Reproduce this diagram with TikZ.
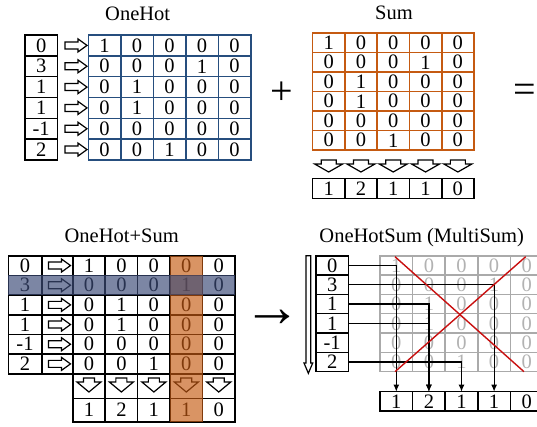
\documentclass[tikz,border=0pt]{standalone}
\usepackage{fontspec}
\setmainfont{Liberation Serif}
\usetikzlibrary{arrows.meta}
\definecolor{ohblue}{RGB}{38,78,126}
\definecolor{sumorange}{RGB}{197,90,17}
\definecolor{rowblue}{RGB}{60,75,120}
\definecolor{gridgray}{RGB}{170,170,170}
\definecolor{txtgray}{RGB}{178,178,178}
\definecolor{xred}{RGB}{200,16,16}
\newcommand\cellfont{\fontsize{20.5}{22}\selectfont}
\newcommand\bigsym{\fontsize{40}{40}\selectfont}

\tikzset{
  cell/.style={draw, line width=1.6pt, inner sep=0pt, outer sep=0pt, font=\cellfont},
  title/.style={font=\cellfont, anchor=base, inner sep=0pt},
  blockarrow/.style={draw=black, fill=white, line width=1.2pt, line join=miter},
  rarr/.pic={\draw[blockarrow] (-11,-3.5) -- (2,-3.5) -- (2,-6.5) -- (11,0) -- (2,6.5) -- (2,3.5) -- (-11,3.5) -- cycle;},
  darr/.pic={\draw[blockarrow] (-7.5,-6) -- (7.5,-6) -- (7.5,-2) -- (14,-2) -- (0,6) -- (-14,-2) -- (-7.5,-2) -- cycle;},
  darrsmall/.pic={\draw[blockarrow] (-5.5,-7) -- (5.5,-7) -- (5.5,-3) -- (12,-3) -- (0,7) -- (-12,-3) -- (-5.5,-3) -- cycle;},
  conn/.style={line width=1.2pt, -{Latex[length=7pt,width=6pt]}},
  redx/.style={draw=xred, line width=1.4pt},
}

\begin{document}
\begin{tikzpicture}[x=1pt,y=-1pt]
\useasboundingbox (0,0) rectangle (537,426);

% ---------- OneHot ----------
\node[title] (t-oh) at (137.7,20) {OneHot};
\foreach \r/\i/\vals in {0/0/{1,0,0,0,0},1/3/{0,0,0,1,0},2/1/{0,1,0,0,0},3/1/{0,1,0,0,0},4/-1/{0,0,0,0,0},5/2/{0,0,1,0,0}} {
  \node[cell, minimum width=32.3pt, minimum height=20.83pt] (oh-i\r) at (41.2,{35+20.83*(\r+0.5)}) {\i};
  \pic at (76,{35+20.83*(\r+0.5)}) {rarr};
  \foreach \v [count=\c from 0] in \vals
    \node[cell, draw=ohblue, minimum width=32.5pt, minimum height=20.83pt] (oh-\r-\c) at ({88.3+32.5*(\c+0.5)},{35+20.83*(\r+0.5)}) {\v};
}

\node[font=\bigsym, inner sep=0pt] (plus) at (281.7,93.3) {+};

% ---------- Sum ----------
\node[title] (t-sum) at (394,19.5) {Sum};
\foreach \r/\vals in {0/{1,0,0,0,0},1/{0,0,0,1,0},2/{0,1,0,0,0},3/{0,1,0,0,0},4/{0,0,0,0,0},5/{0,0,1,0,0}} {
  \foreach \v [count=\c from 0] in \vals
    \node[cell, draw=sumorange, minimum width=32.3pt, minimum height=19.5pt] (sm-\r-\c) at ({312.5+32.3*(\c+0.5)},{33+19.5*(\r+0.5)}) {\v};
}
\foreach \v [count=\c from 0] in {1,2,1,1,0} {
  \pic at ({312.5+32.3*(\c+0.5)},166) {darr};
  \node[cell, minimum width=32.3pt, minimum height=19.8pt] (sm-b\c) at ({312.5+32.3*(\c+0.5)},188.4) {\v};
}

\node[font=\bigsym, inner sep=0pt] (eq) at (525,93.3) {=};

% ---------- OneHot+Sum ----------
\node[title] (t-ohs) at (121.7,242.3) {OneHot+Sum};
\foreach \r/\i/\vals in {0/0/{1,0,0,0,0},1/3/{0,0,0,1,0},2/1/{0,1,0,0,0},3/1/{0,1,0,0,0},4/-1/{0,0,0,0,0},5/2/{0,0,1,0,0}} {
  \node[cell, minimum width=33.4pt, minimum height=19.67pt] (os-i\r) at (25,{255.7+19.67*(\r+0.5)}) {\i};
  \node[cell, minimum width=31pt, minimum height=19.67pt] (os-a\r) at (57.2,{255.7+19.67*(\r+0.5)}) {};
  \pic at (59.5,{255.7+19.67*(\r+0.5)}) {rarr};
  \foreach \v [count=\c from 0] in \vals
    \node[cell, minimum width=32.46pt, minimum height=19.67pt] (os-\r-\c) at ({72.7+32.46*(\c+0.5)},{255.7+19.67*(\r+0.5)}) {\v};
}
\foreach \v [count=\c from 0] in {1,2,1,1,0} {
  \node[cell, minimum width=32.46pt, minimum height=24.6pt] (os-d\c) at ({72.7+32.46*(\c+0.5)},386) {};
  \pic at ({72.7+32.46*(\c+0.5)},385) {darrsmall};
  \node[cell, minimum width=32.46pt, minimum height=23.4pt] (os-b\c) at ({72.7+32.46*(\c+0.5)},410) {\v};
}
% highlighted column (index 3) and row (value 3)
\fill[sumorange, opacity=.65] (os-0-3.north west) rectangle (os-b3.south east);
\fill[rowblue, opacity=.67] (os-i1.north west) rectangle (os-1-4.south east);

\node[font=\fontsize{58}{58}\selectfont, inner sep=0pt] (to) at (272,318.3) {→};

% ---------- OneHotSum (MultiSum) ----------
\node[title] (t-ms) at (421.7,242.3) {OneHotSum (MultiSum)};
\draw[blockarrow] (306,255.7) -- (310.7,255.7) -- (310.7,363) -- (312.7,363) -- (308.35,373.3) -- (304,363) -- (306,363) -- cycle;
\foreach \r/\i/\vals in {0/0/{1,0,0,0,0},1/3/{0,0,0,1,0},2/1/{0,1,0,0,0},3/1/{0,1,0,0,0},4/-1/{0,0,0,0,0},5/2/{0,0,1,0,0}} {
  \foreach \v [count=\c from 0] in \vals
    \node[cell, draw=gridgray, text=txtgray, minimum width=32.6pt, minimum height=19.33pt] (ms-\r-\c) at ({380+32.6*(\c+0.5)},{255.7+19.33*(\r+0.5)}) {\v};
  \node[cell, minimum width=32.3pt, minimum height=19.33pt] (ms-i\r) at (332.2,{255.7+19.33*(\r+0.5)}) {\i};
}
\foreach \v [count=\c from 0] in {1,2,1,1,0}
  \node[cell, minimum width=32.6pt, minimum height=19.3pt] (ms-b\c) at ({380+32.6*(\c+0.5)},401.3) {\v};

\draw[conn] (ms-i0.east) -| (ms-b0.north);
\draw[conn] (ms-i1.east) -| (ms-b3.north);
\draw[conn] (ms-i2.east) -| (ms-b1.north);
\draw[conn] (ms-i3.east) -| (ms-b1.north);
\draw[conn] (ms-i5.east) -| (ms-b2.north);

\draw[redx] (395,256.7) -- (524,371.7);
\draw[redx] (395,371.7) -- (525.7,256.7);
\end{tikzpicture}
\end{document}
